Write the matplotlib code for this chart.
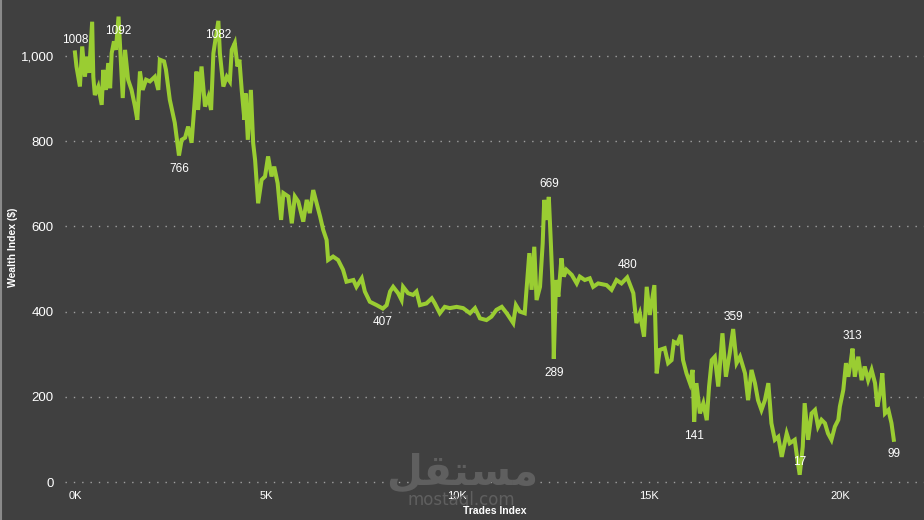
import matplotlib
matplotlib.use("Agg")
import matplotlib.pyplot as plt
from matplotlib.ticker import FuncFormatter
from matplotlib.lines import Line2D

# wealth index per trade (trades in thousands)
trades_k = [
    0.00, 0.04, 0.13, 0.19, 0.26, 0.32, 0.37, 0.45, 0.48, 0.52, 0.61, 0.70, 0.74, 0.81, 0.87, 0.92,
    0.96, 1.02, 1.07, 1.14, 1.19, 1.25, 1.31, 1.39, 1.48, 1.57, 1.63, 1.70, 1.77, 1.86, 1.96, 2.09,
    2.18, 2.22, 2.33, 2.38, 2.48, 2.61, 2.72, 2.79, 2.88, 2.96, 3.05, 3.14,
    3.18, 3.22, 3.31, 3.40, 3.49, 3.56, 3.62, 3.66, 3.75, 3.79, 3.88, 3.97, 4.05, 4.10, 4.18, 4.25,
    4.30, 4.36, 4.43, 4.46, 4.52, 4.60, 4.66, 4.71, 4.79, 4.88, 4.97, 5.05, 5.14, 5.21, 5.30, 5.39,
    5.45, 5.58, 5.67, 5.75, 5.84, 5.97, 6.06, 6.14, 6.23, 6.32, 6.41, 6.49, 6.58,
    6.62, 6.75, 6.88, 7.01, 7.10, 7.28, 7.36, 7.50, 7.58, 7.71, 7.89, 8.05, 8.15, 8.24, 8.32, 8.45,
    8.54, 8.58, 8.71, 8.84, 8.93, 9.02, 9.19, 9.33, 9.41, 9.54, 9.67, 9.80, 9.98, 10.15, 10.33, 10.46,
    10.59, 10.76, 10.89, 11.02, 11.16,
    11.29, 11.46, 11.53, 11.63, 11.76, 11.88, 11.94, 12.01, 12.07, 12.16, 12.23, 12.27, 12.33, 12.39,
    12.44, 12.49, 12.52, 12.58, 12.64, 12.72, 12.78, 12.85, 12.99, 13.12, 13.20, 13.33, 13.46, 13.55,
    13.68, 13.90, 14.03, 14.16, 14.29, 14.44,
    14.60, 14.68, 14.77, 14.88, 14.95, 15.03, 15.15, 15.21, 15.29, 15.42, 15.51, 15.60, 15.66, 15.75,
    15.84, 15.90, 15.99, 16.08, 16.15, 16.19, 16.25, 16.34, 16.43, 16.52, 16.58, 16.65, 16.73, 16.82,
    16.93, 17.02, 17.12, 17.21, 17.30, 17.39,
    17.52, 17.60, 17.69, 17.78, 17.86, 17.95, 18.04, 18.13, 18.21, 18.30, 18.39, 18.48, 18.61, 18.69,
    18.82, 18.88, 18.95, 19.03, 19.08, 19.17, 19.26, 19.35, 19.43, 19.52, 19.61, 19.69, 19.78, 19.87,
    19.96, 20.00, 20.09, 20.16, 20.22, 20.28, 20.33, 20.39, 20.48, 20.57, 20.65, 20.74, 20.83, 20.92,
    20.98, 21.05, 21.11, 21.18, 21.27, 21.35, 21.41,
]
wealth = [
    1008, 975, 928, 1022, 951, 998, 960, 1080, 951, 908, 928, 885, 967, 920, 983, 924,
    1006, 1034, 1014, 1092, 1006, 901, 1014, 944, 920, 881, 850, 963, 920, 944, 940, 951,
    920, 991, 987, 967, 897, 843, 766, 803, 808, 834, 796, 904,
    963, 873, 975, 881, 904, 873, 1006, 1030, 1082, 1006, 928, 951, 940, 1014, 1030, 975,
    991, 920, 850, 912, 803, 920, 795, 756, 654, 709, 717, 764, 717, 740, 701, 615,
    678, 670, 607, 670, 658, 611, 662, 631, 685, 654, 623, 592, 568,
    521, 529, 521, 498, 470, 474, 458, 478, 447, 423, 415, 407, 415, 447, 458, 443,
    427, 458, 443, 439, 447, 415, 419, 431, 419, 396, 411, 408, 411, 408, 396, 408,
    384, 380, 388, 404, 411,
    396, 373, 415, 400, 396, 537, 451, 552, 427, 458, 560, 662, 615, 669,
    568, 458, 289, 474, 435, 525, 482, 498, 486, 466, 482, 474, 478, 458,
    466, 462, 451, 474, 466, 480,
    443, 373, 396, 341, 458, 392, 462, 255, 310, 314, 279, 286, 329, 325,
    345, 286, 255, 232, 263, 141, 232, 161, 185, 145, 224, 286, 294, 224,
    349, 247, 302, 359, 279, 294,
    255, 192, 263, 232, 192, 169, 192, 232, 138, 99, 106, 59, 114, 91,
    99, 59, 17, 83, 185, 99, 161, 169, 130, 146, 138, 114, 99, 130,
    146, 177, 216, 279, 247, 279, 313, 247, 294, 239, 271, 239, 263, 232,
    177, 208, 255, 161, 169, 138, 99,
]

# labelled points
label_k = [0.00, 1.14, 2.72, 3.75, 8.05, 12.39, 12.52, 14.44, 16.19, 17.21, 18.95, 20.33, 21.41]
label_vals = [1008, 1092, 766, 1082, 407, 669, 289, 480, 141, 359, 17, 313, 99]
label_side = ["up", "down", "down", "down", "down", "up", "down", "up", "down", "up", "up", "up", "down"]

x_ticks = [0, 5, 10, 15, 20]
x_tick_labels = ["0K", "5K", "10K", "15K", "20K"]
y_ticks = [0, 200, 400, 600, 800, 1000]

bg = "#404040"
green = "#9acd32"
plt.rcParams["font.family"] = ["Liberation Sans", "DejaVu Sans"]

fig = plt.figure(figsize=(9.24, 5.2), dpi=100, facecolor=bg)
ax = fig.add_axes([65 / 924, 33 / 520, 859 / 924, 487 / 520])
ax.set_facecolor(bg)

ax.plot(trades_k, wealth, color=green, linewidth=2.9, solid_joinstyle="miter", zorder=3)

for k, v, side in zip(label_k, label_vals, label_side):
    dy = 9 if side == "up" else -10
    ax.annotate(str(v), (k, v), xytext=(0, dy), textcoords="offset points",
                ha="center", va="center", fontsize=8.5, color="white", zorder=4)

ax.set_xlim(-0.26, 22.2)
ax.set_ylim(-11.7, 1131)
ax.set_xticks(x_ticks)
ax.set_xticklabels(x_tick_labels)
ax.set_yticks(y_ticks)
ax.yaxis.set_major_formatter(FuncFormatter(lambda v, p: f"{v:,.0f}"))
ax.tick_params(axis="y", length=0, pad=8, labelsize=9.5, labelcolor="white")
ax.tick_params(axis="x", length=0, pad=3, labelsize=8, labelcolor="white")
ax.grid(axis="y", color="#a0a0a0", linestyle=(0, (1, 5)), linewidth=1.0)
ax.grid(axis="x", visible=False)
for s in ax.spines.values():
    s.set_visible(False)

fig.text(13 / 924, 1 - 247 / 520, "Wealth Index ($)", rotation=90, ha="center", va="center",
         fontsize=7.5, fontweight="bold", color="white")
fig.text(495 / 924, 1 - 511 / 520, "Trades Index", ha="center", va="center",
         fontsize=7.5, fontweight="bold", color="white")

# mostaql watermark
fig.text(462 / 924, 1 - 472 / 520, "\ufede\ufed8\ufe98\ufeb4\ufee3", ha="center", va="center",
         fontsize=30, fontweight="bold", color="#5f5f5f", family="DejaVu Sans", zorder=1)
fig.text(461 / 924, 1 - 500 / 520, "mostaql.com", ha="center", va="center",
         fontsize=12, color="#5f5f5f", family="DejaVu Sans", zorder=1)

fig.add_artist(Line2D([0.0008, 0.0008], [0, 1], color="#8a8a8a", linewidth=1.5))

fig.savefig("out.png", dpi=100, facecolor=bg)
